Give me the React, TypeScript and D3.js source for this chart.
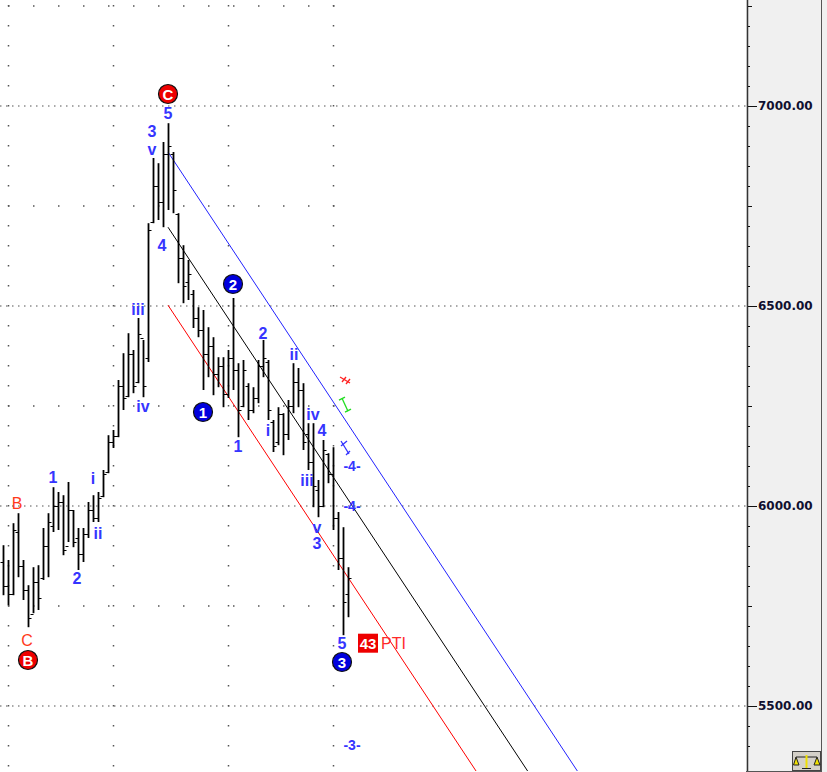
import React from "react";
import * as d3 from "d3";

// ---- DATA ----
const highs = [5902,5865,5957,5982,5865,5802,5847,5852,5945,5982,6047,6035,6027,6060,5990,5945,5945,6010,6027,6035,6090,6177,6190,6315,6382,6432,6390,6470,6415,6707,6870,6857,6910,6957,6885,6732,6652,6615,6540,6497,6490,6447,6422,6372,6372,6390,6520,6357,6365,6307,6297,6365,6415,6365,6215,6247,6232,6265,6357,6345,6307,6207,6207,6065,6165,6132,6147,5985,5947,5847];
const lows = [5777,5752,5777,5822,5765,5697,5732,5740,5815,5822,5935,5940,5877,5910,5897,5840,5860,5920,5960,5960,6022,6082,6145,6172,6240,6272,6282,6307,6272,6360,6707,6715,6697,6740,6732,6557,6507,6515,6445,6422,6290,6322,6277,6297,6247,6270,6290,6172,6247,6215,6232,6257,6322,6215,6135,6152,6127,6165,6232,6247,6140,6090,5997,5972,5997,6057,5940,5840,5677,5722];
const opens = [5860,5800,5780,5935,5850,5790,5730,5810,5820,5900,5950,6000,6010,5900,5990,5920,5880,5930,5990,5970,6025,6085,6160,6175,6300,6275,6380,6310,6420,6370,6710,6800,6760,6880,6880,6730,6620,6560,6530,6470,6440,6380,6400,6330,6350,6280,6370,6340,6250,6300,6240,6270,6350,6360,6210,6160,6230,6180,6250,6310,6290,6180,6110,6040,6000,6130,6080,5970,5870,5780];
const closes = [5800,5780,5940,5850,5790,5720,5810,5770,5900,5960,6000,6010,5890,5990,5910,5880,5930,5990,5970,6020,6080,6160,6175,6300,6270,6380,6300,6430,6300,6690,6800,6760,6880,6900,6790,6620,6550,6580,6470,6440,6380,6400,6330,6350,6280,6370,6340,6240,6340,6240,6270,6350,6370,6240,6150,6230,6180,6250,6310,6290,6160,6110,6050,6000,6140,6080,5970,5870,5760,5820];

const majorPrices = [7000, 6500, 6000, 5500];
const tickLabels = ["7000.00", "6500.00", "6000.00", "5500.00"];
const gridBarIdx = [1, 22, 45, 66];

// channel lines: [startIdx, startPrice, endIdx, endPrice]
const channelColors = ["#2222ff", "#000000", "#ff0000"];
const channelStart = [6885, 6697, 6502];
const channelEnd = [5335, 5147, 4952];
const channelIdx = [33, 115];

// wave labels (bar index, price, text)
const blueLabelIdx = [10, 14.8, 18, 19, 27, 28, 29.8, 29.8, 33, 31.8, 47, 52, 53, 58.2, 62, 63.8, 60.8, 62.8, 62.8, 67.8];
const blueLabelPrice = [6072, 5820, 6070, 5932, 6492, 6250, 6937, 6892, 6982, 6652, 6150, 6432, 6190, 6380, 6230, 6190, 6065, 5947, 5907, 5657];
const blueLabelText = ["1", "2", "i", "ii", "iii", "iv", "3", "v", "5", "4", "1", "2", "i", "ii", "iv", "4", "iii", "v", "3", "5"];

const targetIdx = [69.8, 69.8, 69.8];
const targetPrice = [6100, 6000, 5402];
const targetText = ["-4-", "-4-", "-3-"];

const redLabelIdx = [2.8, 4.8];
const redLabelPrice = [6007, 5665];
const redLabelText = ["B", "C"];

const circleIdx = [5, 33, 40, 46, 67.8];
const circlePrice = [5615, 7030, 6235, 6555, 5610];
const circleText = ["B", "C", "1", "2", "3"];
const circleColor = ["#ee0000", "#ee0000", "#0000dd", "#0000dd", "#0000dd"];

const markerIdx = [68.4, 68.4, 68.4];
const markerPrice = [6315, 6252, 6145];
const markerColor = ["#ff2020", "#22dd22", "#3333ff"];

const ptiIdx = 73;
const ptiPrice = 5657;
const ptiValue = "43";
const ptiText = "PTI";

export default function App() {
  const W = 827, H = 772;
  const plotR = 746, plotB = 771;
  const x = d3.scaleLinear().domain([0, 69]).range([3, 348]);
  const y = d3.scaleLinear().domain([5500, 7000]).range([706, 106]);

  const minorPrices = d3.range(5400, 7300, 50);
  const midPrices = [5250, 5750, 6250, 6750, 7250];

  const line = d3.line<[number, number]>().x(d => x(d[0])).y(d => y(d[1]));

  const blueFont = "'Liberation Sans', Arial, sans-serif";

  return (
    <svg width={W} height={H} style={{ position: "absolute", left: 0, top: 0, background: "#fff" }}>
      <defs>
        <clipPath id="plot"><rect x={0} y={0} width={plotR} height={plotB} /></clipPath>
      </defs>
      <rect x={0} y={0} width={plotR} height={plotB} fill="#fff" />
      {midPrices.map((p, i) => (
        <line key={"mh" + i} x1={8} x2={335} y1={y(p)} y2={y(p)} stroke="#555" strokeWidth={1.5} strokeDasharray="1.5,23.5" />
      ))}
      {gridBarIdx.map((b, i) => (
        <line key={"vg" + i} x1={Math.round(x(b)) + 0.5} x2={Math.round(x(b)) + 0.5} y1={y(7250) - 1} y2={plotB} stroke="#555" strokeWidth={1.5} strokeDasharray="1.5,18.5" />
      ))}
      {majorPrices.map((p, i) => (
        <line key={"mj" + i} x1={0} x2={plotR} y1={y(p)} y2={y(p)} stroke="#555" strokeWidth={1.2} strokeDasharray="1.5,4.5" />
      ))}
      <g clipPath="url(#plot)">
        {channelColors.map((c, i) => (
          <path key={"ch" + i} d={line([[channelIdx[0], channelStart[i]], [channelIdx[1], channelEnd[i]]]) || ""} stroke={c} strokeWidth={1} fill="none" />
        ))}
        {highs.map((h, i) => {
          const xi = Math.round(x(i)) + 0.5;
          return (
            <g key={"b" + i} stroke="#000">
              <line x1={xi} x2={xi} y1={y(h)} y2={y(lows[i])} strokeWidth={1.8} />
              <line x1={xi - 3} x2={xi} y1={Math.round(y(opens[i])) + 0.5} y2={Math.round(y(opens[i])) + 0.5} strokeWidth={1} />
              <line x1={xi} x2={xi + 3} y1={Math.round(y(closes[i])) + 0.5} y2={Math.round(y(closes[i])) + 0.5} strokeWidth={1} />
            </g>
          );
        })}
        {markerIdx.map((m, i) => {
          const cx = x(m), cy = y(markerPrice[i]);
          const c = markerColor[i];
          if (i === 0) {
            return (
              <g key={"mk" + i} stroke={c} strokeWidth={1.3} fill="none">
                <line x1={cx - 5} x2={cx + 5} y1={cy - 3} y2={cy + 3} />
                <line x1={cx - 3} x2={cx + 1} y1={cy + 2} y2={cy - 3} />
                <line x1={cx + 1} x2={cx + 5} y1={cy + 4} y2={cy - 1} />
              </g>
            );
          }
          if (i === 1) {
            return (
              <g key={"mk" + i} stroke={c} strokeWidth={1.3} fill="none">
                <line x1={cx - 3} x2={cx + 3} y1={cy - 7} y2={cy + 6} />
                <line x1={cx - 6} x2={cx} y1={cy - 5} y2={cy - 8} />
                <line x1={cx} x2={cx + 6} y1={cy + 7} y2={cy + 4} />
              </g>
            );
          }
          return (
            <g key={"mk" + i} stroke={c} strokeWidth={1.3} fill="none">
              <line x1={cx - 4} x2={cx + 4} y1={cy - 7} y2={cy + 6} />
              <line x1={cx - 4} x2={cx + 2} y1={cy - 2} y2={cy - 7} />
              <line x1={cx + 1} x2={cx + 5} y1={cy + 7} y2={cy + 3} />
            </g>
          );
        })}
      </g>
      {blueLabelText.map((t, i) => (
        <text key={"bl" + i} x={x(blueLabelIdx[i])} y={y(blueLabelPrice[i])} fill="#3535ff" fontFamily={blueFont} fontWeight="bold" fontSize={16} textAnchor="middle" dominantBaseline="central">{t}</text>
      ))}
      {targetText.map((t, i) => (
        <text key={"tg" + i} x={x(targetIdx[i])} y={y(targetPrice[i])} fill="#3535ff" fontFamily={blueFont} fontWeight="bold" fontSize={14} textAnchor="middle" dominantBaseline="central">{t}</text>
      ))}
      {redLabelText.map((t, i) => (
        <text key={"rl" + i} x={x(redLabelIdx[i])} y={y(redLabelPrice[i])} fill="#ff3a1a" fontFamily={blueFont} fontSize={16} textAnchor="middle" dominantBaseline="central">{t}</text>
      ))}
      {circleText.map((t, i) => (
        <g key={"ci" + i}>
          <circle cx={x(circleIdx[i])} cy={y(circlePrice[i])} r={9.5} fill={circleColor[i]} stroke="#111" strokeWidth={1.2} />
          <text x={x(circleIdx[i])} y={y(circlePrice[i]) + 0.5} fill="#fff" fontFamily={blueFont} fontWeight="bold" fontSize={15} textAnchor="middle" dominantBaseline="central">{t}</text>
        </g>
      ))}
      <rect x={x(ptiIdx) - 10} y={y(ptiPrice) - 9.5} width={20} height={19} fill="#ee0000" />
      <text x={x(ptiIdx)} y={y(ptiPrice) + 0.5} fill="#fff" fontFamily={blueFont} fontWeight="bold" fontSize={15} textAnchor="middle" dominantBaseline="central">{ptiValue}</text>
      <text x={x(ptiIdx) + 13} y={y(ptiPrice) + 0.5} fill="#ff2a2a" fontFamily={blueFont} fontSize={16} textAnchor="start" dominantBaseline="central">{ptiText}</text>

      <rect x={plotR} y={0} width={W - plotR} height={H} fill="#f0f0f0" />
      <line x1={747.5} x2={747.5} y1={0} y2={H} stroke="#333" strokeWidth={1.5} />
      <line x1={821.5} x2={821.5} y1={0} y2={H} stroke="#555" strokeWidth={1} />
      <line x1={plotR} x2={821} y1={771.5} y2={771.5} stroke="#555" strokeWidth={1} />
      {minorPrices.map((p, i) => {
        const yy = Math.round(y(p)) + 0.5;
        const isMajor = p % 500 === 0;
        const isMid = p % 250 === 0;
        return <line key={"at" + i} x1={748} x2={isMajor ? 757 : isMid ? 752 : 750} y1={yy} y2={yy} stroke="#111" strokeWidth={1} />;
      })}
      {tickLabels.map((t, i) => (
        <text key={"tl" + i} x={758} y={y(majorPrices[i])} fill="#101030" fontFamily="'DejaVu Sans', Verdana, sans-serif" fontWeight="bold" fontSize={12} dominantBaseline="central">{t}</text>
      ))}
      <rect x={792.5} y={751.5} width={28} height={19} fill="#d4d0c8" stroke="#444" strokeWidth={1} />
      <g stroke="#222" strokeWidth={1} fill="none">
        <line x1={796} x2={817} y1={757} y2={757} />
        <path d="M796 757 L793.5 765 L799 765 Z" fill="#f0e000" />
        <path d="M817 757 L814 765 L820 765 Z" fill="#f0e000" />
        <line x1={806.5} x2={806.5} y1={755} y2={768} stroke="#f0e000" strokeWidth={2} />
        <line x1={802} x2={811} y1={768.5} y2={768.5} />
      </g>
    </svg>
  );
}
